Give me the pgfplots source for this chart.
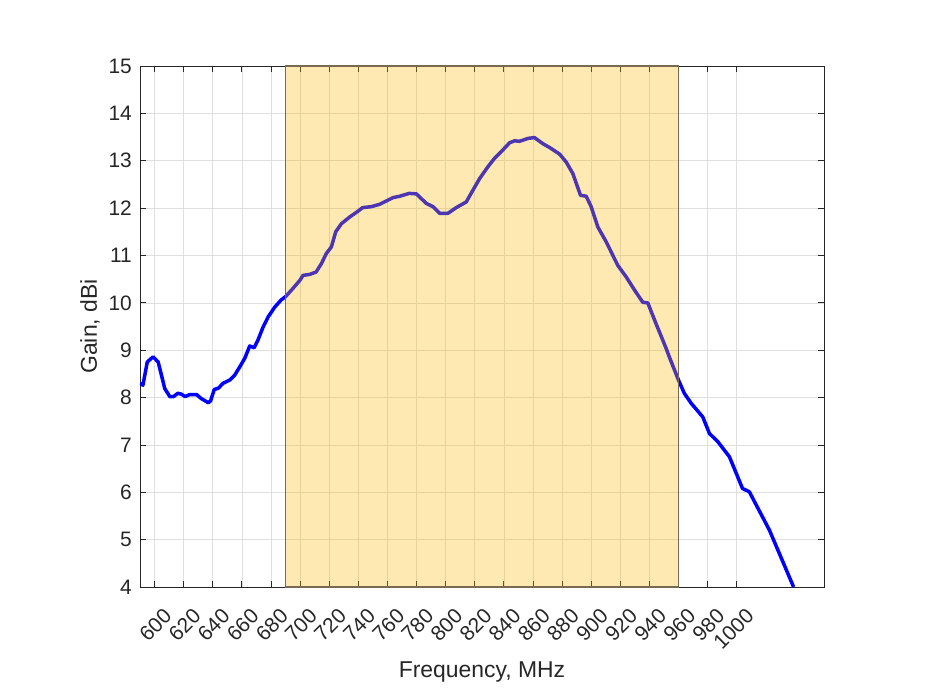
\documentclass[border=0pt]{standalone}
\usepackage{pgfplots}
\pgfplotsset{compat=1.18}
\usepackage{fontspec}
\setmainfont{Liberation Sans}
\definecolor{axgray}{RGB}{38,38,38}
\definecolor{gridgray}{RGB}{223,223,223}
\definecolor{bandfill}{RGB}{255,182,0}
\definecolor{bandedge}{RGB}{120,105,80}
\begin{document}
\begin{tikzpicture}
\begin{axis}[
  scale only axis, width=684bp, height=521bp,
  xmin=590, xmax=1060, ymin=4, ymax=15,
  xtick={600,620,...,1000}, ytick={4,5,...,15},
  grid=major, major grid style={gridgray, line width=0.6bp},
  axis line style={axgray, line width=0.8bp},
  tick style={axgray, line width=0.8bp}, major tick length=6bp,
  tick align=inside,
  /pgf/number format/assume math mode=true,
  /pgf/number format/1000 sep={},
  xticklabel style={xshift=8bp, yshift=-20bp, rotate=45, anchor=north east, inner sep=0pt,
    font=\fontsize{21}{21}\selectfont, text=axgray},
  yticklabel style={xshift=-8bp, anchor=east, inner sep=0pt,
    font=\fontsize{21}{21}\selectfont, text=axgray},
  xlabel={Frequency, MHz}, ylabel={Gain, dBi},
  xlabel style={at={(rel axis cs:0.5,0)}, anchor=base, yshift=-90bp,
    font=\fontsize{23}{23}\selectfont, text=axgray},
  ylabel style={at={(rel axis cs:0,0.5)}, anchor=base, yshift=43bp,
    font=\fontsize{23}{23}\selectfont, text=axgray},
]
\addplot[blue, line width=3.5bp, line join=round] coordinates {
(590,8.30) (592,8.26) (595,8.75) (599,8.86) (602.5,8.75) (605,8.44) (607,8.19)
(610.5,8.02) (613,8.02) (616,8.09) (618.5,8.07) (621,8.02) (624,8.06) (629,8.06)
(632,7.98) (637,7.89) (638.5,7.93) (641,8.17) (644,8.20) (647,8.30) (651.7,8.37)
(655,8.47) (658.6,8.65) (662,8.83) (665.4,9.09) (668.4,9.05) (671,9.21) (674.6,9.49)
(678,9.70) (682.6,9.91) (687,10.06) (690,10.13) (695,10.30) (700,10.48) (702,10.58)
(706.6,10.60) (711,10.65) (714.7,10.83) (718,11.04) (721.5,11.18) (724.5,11.50)
(728.4,11.67) (734,11.81) (738.7,11.91) (743,12.01) (749,12.03) (754.7,12.08)
(763.8,12.22) (768.4,12.25) (775,12.31) (779.9,12.30) (786.7,12.10) (791.3,12.03)
(795.9,11.89) (801.6,11.89) (807.3,12.01) (814.2,12.13) (818.8,12.38) (823.3,12.62)
(829,12.87) (833.6,13.05) (838.2,13.19) (844,13.38) (847.4,13.42) (850.8,13.41)
(856.5,13.47) (861,13.49) (866.8,13.36) (871.4,13.28) (878.3,13.14) (882.9,12.97)
(887.4,12.73) (892.7,12.27) (896.6,12.25) (900,12.03) (904.6,11.60) (910.3,11.29)
(918.3,10.79) (924,10.55) (929.8,10.27) (935.5,10.01) (938.9,10.00) (944.7,9.55)
(951.5,9.04) (953.8,8.85) (960,8.37) (964,8.09) (968.7,7.88) (976.7,7.59)
(981.3,7.24) (987,7.07) (995,6.75) (1004,6.08) (1008.7,6.01) (1022.5,5.20) (1039.1,4.00)
};
\addplot[draw=bandedge, line width=1.5bp, fill=bandfill, fill opacity=0.3] coordinates {
(690,4) (690,15) (960,15) (960,4)} -- cycle;
\end{axis}
\path ([xshift=-140bp,yshift=-113bp]current axis.south west) rectangle ([xshift=793bp,yshift=587bp]current axis.south west);
\end{tikzpicture}
\end{document}
